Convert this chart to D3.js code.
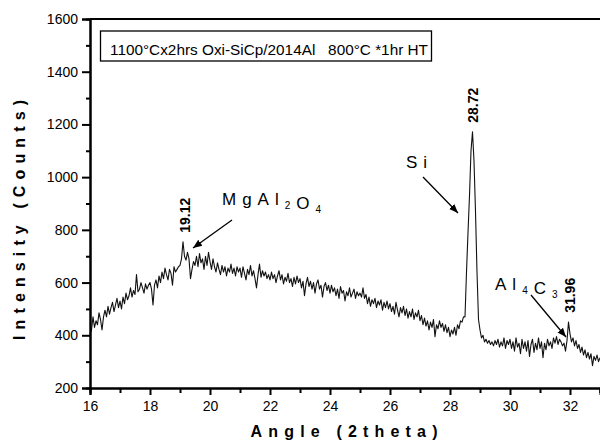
<!DOCTYPE html>
<html>
<head>
<meta charset="utf-8">
<script src="https://cdn.jsdelivr.net/npm/d3@7"></script>
<style>
  body { margin: 0; background: #fff; }
  text { font-family: "Liberation Sans", Arial, sans-serif; fill: #000; }
</style>
</head>
<body>
<div class="xrd"></div>
<script>
// scan: 2theta from 16 to 33, step 0.05
var startAngle = 16,
  stepAngle = 0.05;

// intensity (counts), one row per degree
var intensity = [
  405, 420, 470, 430, 455, 440, 485, 460, 420, 470, 495, 470, 510, 480, 505, 525, 490, 515, 540, 505,
  530, 500, 545, 520, 560, 535, 550, 580, 545, 570, 555, 630, 565, 575, 600, 580, 560, 595, 575, 590,
  600, 575, 515, 590, 610, 580, 625, 600, 640, 615, 655, 630, 610, 650, 635, 590, 660, 640, 650, 660,
  665, 690, 755, 700, 685, 715, 690, 615, 650, 680, 665, 700, 660, 710, 675, 690, 650, 700, 665, 715,
  680, 650, 690, 660, 640, 675, 650, 630, 665, 640, 660, 625, 655, 640, 670, 635, 655, 625, 660, 640,
  655, 620, 660, 635, 610, 650, 630, 665, 625, 645, 615, 580, 630, 670, 620, 645, 625, 640, 615, 630,
  610, 640, 615, 630, 600, 625, 645, 610, 630, 595, 620, 605, 635, 600, 615, 585, 620, 595, 625, 600,
  615, 580, 605, 550, 595, 620, 585, 605, 575, 600, 560, 595, 610, 575, 590, 545, 585, 600, 570, 590,
  560, 590, 565, 580, 550, 575, 540, 585, 560, 570, 530, 565, 550, 580, 545, 560, 575, 540, 565, 550,
  560, 545, 580, 540, 555, 520, 545, 510, 535, 520, 540, 505, 530, 515, 535, 495, 525, 505, 530, 500,
  520, 490, 510, 480, 525, 495, 470, 505, 485, 510, 475, 500, 465, 490, 470, 500, 460, 485, 470, 495,
  455, 475, 440, 465, 435, 455, 420, 450, 430, 460, 395, 440, 425, 455, 430, 445, 415, 440, 410, 430,
  395, 420, 405, 430, 400, 440, 425, 455, 450, 470, 470, 640, 790, 930, 1100, 1172, 1060, 870, 640, 460,
  420, 390, 400, 375, 385, 370, 380, 365, 375, 360, 380, 365, 385, 355, 375, 360, 390, 350, 380, 365,
  385, 350, 375, 340, 390, 355, 370, 330, 385, 350, 375, 340, 380, 320, 365, 385, 335, 370, 345, 390,
  350, 375, 315, 370, 345, 385, 360, 375, 350, 390, 370, 395, 365, 385, 375, 360, 370, 340, 380, 450,
  405, 375, 390, 360, 380, 350, 365, 335, 355, 325, 345, 315, 335, 310, 330, 285, 320, 305, 325, 300,
  315
];

var xTicks = [16, 18, 20, 22, 24, 26, 28, 30, 32],
  yTicks = [200, 400, 600, 800, 1000, 1200, 1400, 1600];

var peakAngles = [19.12, 28.72, 31.96],
  peakCounts = [755, 1172, 451];

var caption = "1100\u00b0Cx2hrs Oxi-SiCp/2014Al\u00a0\u00a0\u00a0800\u00b0C *1hr HT";

var width = 600,
  height = 442;

var svg = d3.select(".xrd").append("svg")
  .attr("width", width)
  .attr("height", height);

var x = d3.scaleLinear().domain([16, 33]).range([90, 600]),
  y = d3.scaleLinear().domain([200, 1600]).range([388, 19]);

svg.append("defs").append("marker")
  .attr("id", "head")
  .attr("viewBox", "0 0 10 10")
  .attr("refX", 10)
  .attr("refY", 5)
  .attr("markerWidth", 9)
  .attr("markerHeight", 9)
  .attr("markerUnits", "userSpaceOnUse")
  .attr("orient", "auto")
  .append("path")
  .attr("d", "M0,1 L10,5 L0,9 Z")
  .attr("fill", "#000");

// the pattern
var line = d3.line()
  .x(function(d, i) { return x(startAngle + i * stepAngle) })
  .y(function(d) { return y(d) });

svg.append("path")
  .datum(intensity)
  .attr("d", line)
  .attr("fill", "none")
  .attr("stroke", "#111")
  .attr("stroke-width", 1.1)
  .attr("stroke-linejoin", "round");

// axes
svg.append("g")
  .attr("transform", "translate(0,388)")
  .call(d3.axisBottom(x).tickValues(d3.range(17, 34, 2)).tickSize(5).tickFormat(""));
svg.append("g")
  .attr("transform", "translate(0,388)")
  .call(d3.axisBottom(x).tickValues(xTicks).tickSize(7).tickPadding(6).tickFormat(d3.format("d")));

svg.append("g")
  .attr("transform", "translate(90,0)")
  .call(d3.axisLeft(y).tickValues(d3.range(300, 1600, 200)).tickSize(4).tickFormat(""));
svg.append("g")
  .attr("transform", "translate(90,0)")
  .call(d3.axisLeft(y).tickValues(yTicks).tickSize(8).tickPadding(4).tickFormat(d3.format("d")));

svg.selectAll(".domain").attr("stroke-width", 2).attr("stroke", "#000");
svg.selectAll(".tick line").attr("stroke-width", 2).attr("stroke", "#000");
svg.selectAll(".tick text")
  .attr("font-size", 14)
  .attr("font-family", "Liberation Sans, Arial, sans-serif")
  .attr("fill", "#000");

// top frame
svg.append("line")
  .attr("x1", x(16)).attr("x2", x(33))
  .attr("y1", y(1600)).attr("y2", y(1600))
  .attr("stroke", "#000")
  .attr("stroke-width", 2);

// axis titles
svg.append("text")
  .attr("transform", "translate(25,220) rotate(-90)")
  .attr("text-anchor", "middle")
  .attr("font-size", 16)
  .attr("font-weight", "bold")
  .attr("textLength", 240)
  .attr("lengthAdjust", "spacing")
  .text("Intensity (Counts)");

svg.append("text")
  .attr("x", 344)
  .attr("y", 437)
  .attr("text-anchor", "middle")
  .attr("font-size", 16)
  .attr("font-weight", "bold")
  .attr("textLength", 187)
  .attr("lengthAdjust", "spacing")
  .text("Angle (2theta)");

// caption box
svg.append("rect")
  .attr("x", 100.5).attr("y", 31)
  .attr("width", 331).attr("height", 30)
  .attr("fill", "none")
  .attr("stroke", "#000")
  .attr("stroke-width", 1.3);

svg.append("text")
  .attr("x", 110)
  .attr("y", 55)
  .attr("font-size", 15)
  .attr("textLength", 318)
  .attr("lengthAdjust", "spacingAndGlyphs")
  .text(caption);

// peak positions
svg.selectAll(".peak")
  .data(peakAngles)
  .enter().append("text")
  .attr("class", "peak")
  .attr("transform", function(d, i) {
    return "translate(" + (x(d) + 6) + "," + (y(peakCounts[i]) - 9) + ") rotate(-90)"
  })
  .attr("font-size", 14)
  .attr("font-weight", "bold")
  .text(function(d) { return d.toFixed(2) });

// phase labels
function phase(px, py, parts) {
  var t = svg.append("text")
    .attr("x", px)
    .attr("y", py)
    .attr("font-size", 17)
    .attr("letter-spacing", 6);
  parts.forEach(function(p) {
    if (p[1]) {
      t.append("tspan").attr("font-size", 10).attr("dy", 4).text(p[0]);
      t.append("tspan").attr("dy", -4).text("");
    } else {
      t.append("tspan").text(p[0]);
    }
  });
}

phase(222, 205, [["MgAl", 0], ["2", 1], ["O", 0], ["4", 1]]);
phase(406, 168, [["Si", 0]]);
phase(495, 290, [["Al", 0], ["4", 1], ["C", 0], ["3", 1]]);

function arrow(x1, y1, x2, y2) {
  svg.append("line")
    .attr("x1", x1).attr("y1", y1)
    .attr("x2", x2).attr("y2", y2)
    .attr("stroke", "#000")
    .attr("stroke-width", 1.3)
    .attr("marker-end", "url(#head)");
}

arrow(232, 220, 193, 248);
arrow(423, 177, 458, 213);
arrow(531, 295, 566, 337);
</script>
</body>
</html>
